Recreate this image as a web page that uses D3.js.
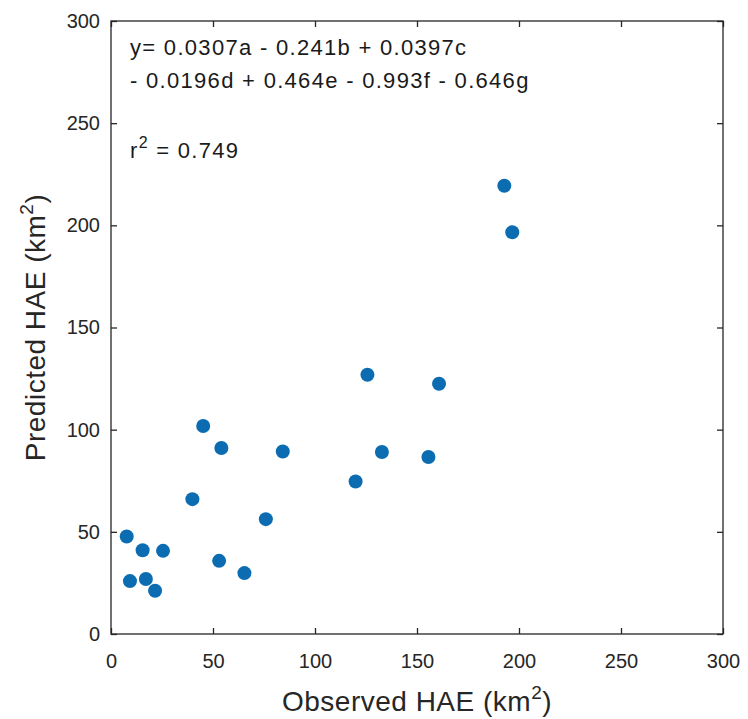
<!DOCTYPE html>
<html>
<head>
<meta charset="utf-8">
<script src="https://cdn.jsdelivr.net/npm/d3@7"></script>
<style>
  body { margin: 0; background: #fff; }
  svg { display: block; font-family: "Liberation Sans", Arial, sans-serif; }
</style>
</head>
<body>
<svg id="chart" width="748" height="719"></svg>
<script>
// observed vs predicted HAE (km^2)
const observed  = [7.7, 15.5, 25.5, 9.3, 17.1, 21.6, 45.2, 54.1, 84.2, 39.9,
                   75.9, 53.0, 65.4, 125.7, 160.8, 132.8, 155.6, 119.9, 192.8, 196.7];
const predicted = [47.7, 41.0, 40.7, 25.9, 26.9, 21.2, 101.8, 91.0, 89.3, 66.0,
                   56.2, 35.8, 29.8, 126.9, 122.5, 89.1, 86.6, 74.6, 219.4, 196.6];
const tickValues = [0, 50, 100, 150, 200, 250, 300];
const eqLines = ['y= 0.0307a - 0.241b + 0.0397c', '- 0.0196d + 0.464e - 0.993f - 0.646g'];
const rSquared = '0.749';

const svg = d3.select('#chart');
const axisColor = '#262626';
const dotColor = '#0b6cb1';

const x = d3.scaleLinear().domain([0, 300]).range([111, 723]);
const y = d3.scaleLinear().domain([0, 300]).range([634, 21]);

// box
svg.append('rect')
  .attr('x', x(0)).attr('y', y(300))
  .attr('width', x(300) - x(0)).attr('height', y(0) - y(300))
  .attr('fill', 'none').attr('stroke', axisColor).attr('stroke-width', 1.3);

function styleAxis(g) {
  g.select('.domain').remove();
  g.selectAll('.tick line').attr('stroke', axisColor).attr('stroke-width', 1.3);
  g.selectAll('.tick text').attr('fill', axisColor).style('font-size', '20px');
}

svg.append('g')
  .attr('transform', `translate(0,${y(0)})`)
  .call(d3.axisBottom(x).tickValues(tickValues).tickSizeInner(-6).tickSizeOuter(0).tickPadding(20))
  .call(styleAxis);

svg.append('g')
  .attr('transform', `translate(${x(0)},0)`)
  .call(d3.axisLeft(y).tickValues(tickValues).tickSizeInner(-6).tickSizeOuter(0).tickPadding(11))
  .call(styleAxis);

svg.append('g')
  .attr('transform', `translate(0,${y(300)})`)
  .call(d3.axisTop(x).tickValues(tickValues).tickSizeInner(-6).tickSizeOuter(0).tickFormat(''))
  .call(styleAxis);

svg.append('g')
  .attr('transform', `translate(${x(300)},0)`)
  .call(d3.axisRight(y).tickValues(tickValues).tickSizeInner(-6).tickSizeOuter(0).tickFormat(''))
  .call(styleAxis);

// points
svg.append('g')
  .selectAll('circle')
  .data(observed.map((o, i) => [o, predicted[i]]))
  .enter()
  .append('circle')
  .attr('cx', d => x(d[0]))
  .attr('cy', d => y(d[1]))
  .attr('r', 7)
  .attr('fill', dotColor);

// axis titles
function addTitle(sel, label) {
  sel.attr('text-anchor', 'middle')
    .attr('fill', axisColor)
    .style('font-size', '28px')
    .style('letter-spacing', '0.5px');
  sel.append('tspan').text(label + ' (km');
  sel.append('tspan').attr('dy', -12).style('font-size', '19px').text('2');
  sel.append('tspan').attr('dy', 12).text(')');
}

svg.append('text')
  .attr('x', (x(0) + x(300)) / 2)
  .attr('y', 711)
  .call(addTitle, 'Observed HAE');

svg.append('text')
  .attr('transform', `translate(45,${(y(0) + y(300)) / 2}) rotate(-90)`)
  .call(addTitle, 'Predicted HAE');

// equation annotation
svg.append('g')
  .selectAll('text')
  .data(eqLines)
  .enter()
  .append('text')
  .attr('x', 130)
  .attr('y', (d, i) => 55 + i * 33)
  .attr('fill', '#1a1a1a')
  .style('font-size', '22px')
  .style('letter-spacing', '1.3px')
  .text(d => d);

const rText = svg.append('text')
  .attr('x', 130)
  .attr('y', 158)
  .attr('fill', '#1a1a1a')
  .style('font-size', '22px')
  .style('letter-spacing', '1.3px');
rText.append('tspan').text('r');
rText.append('tspan').attr('dy', -10).style('font-size', '16px').text('2');
rText.append('tspan').attr('dy', 10).text(' = ' + rSquared);
</script>
</body>
</html>
